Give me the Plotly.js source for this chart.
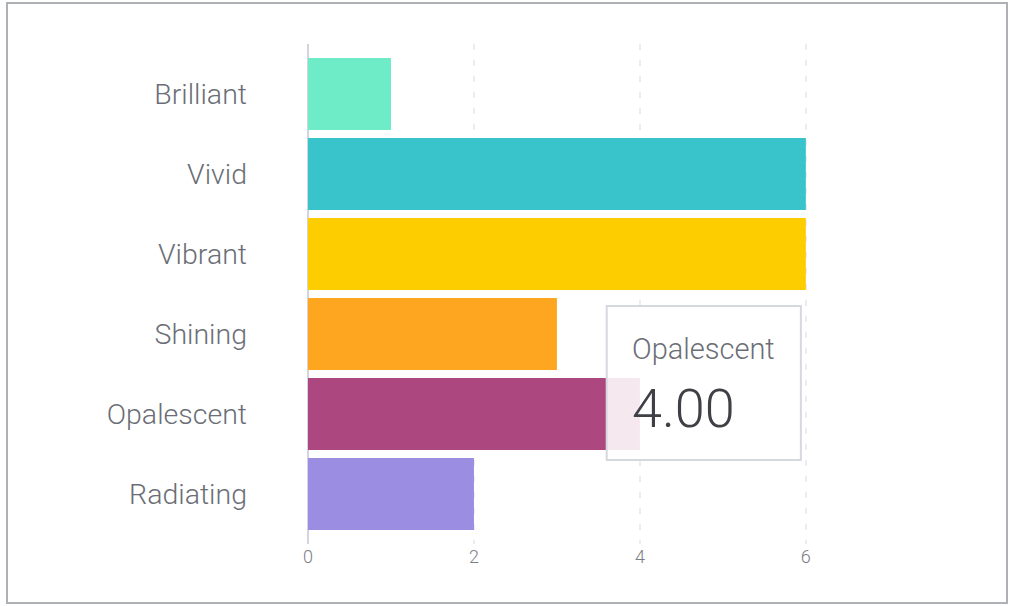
<!DOCTYPE html>
<html>
<head>
<meta charset="utf-8">
<script src="https://cdn.plot.ly/plotly-3.0.1.min.js"></script>
<style>
  html, body { margin: 0; padding: 0; background: #fff; }
  #wrap { position: relative; width: 1012px; height: 606px; }
  #chart { position: absolute; left: 0; top: 0; width: 1012px; height: 606px; }
  #frame { position: absolute; left: 6px; top: 2px; width: 998px; height: 598px;
           border: 2px solid #aeb1b5; pointer-events: none; }
</style>
</head>
<body>
<div id="wrap">
  <div id="chart"></div>
  <div id="frame"></div>
</div>
<script>
const categories = ["Brilliant", "Vivid", "Vibrant", "Shining", "Opalescent", "Radiating"];
const values = [1, 6, 6, 3, 4, 2];
const colors = ["#6decc7", "#39c3ca", "#fecd00", "#fea61f", "#ad477f", "#9a8de2"];
const xTicks = [0, 2, 4, 6];
const highlighted = "Opalescent";

const hIdx = categories.indexOf(highlighted);
const hVal = values[hIdx];

const trace = {
  type: "bar",
  orientation: "h",
  y: categories,
  x: values,
  marker: { color: colors, line: { width: 0 } },
  hoverinfo: "none"
};

const fontFam = "Roboto, 'Liberation Sans', sans-serif";

const layout = {
  width: 1012,
  height: 606,
  margin: { l: 308, r: 202, t: 44, b: 62 },
  paper_bgcolor: "rgba(0,0,0,0)",
  plot_bgcolor: "rgba(0,0,0,0)",
  showlegend: false,
  bargap: 0.1,
  font: { family: fontFam, weight: 300 },
  xaxis: {
    range: [0, 6.05],
    tickvals: xTicks,
    ticktext: xTicks.map(String),
    showgrid: true,
    gridcolor: "#ebebf2",
    gridwidth: 2,
    griddash: "6px,10px",
    zeroline: true,
    zerolinecolor: "#d4d4de",
    zerolinewidth: 2,
    showline: false,
    ticks: "",
    tickfont: { size: 18, color: "#7b7e85", family: fontFam, weight: 300 },
    fixedrange: true
  },
  yaxis: {
    type: "category",
    range: [categories.length - 1 + 0.625, -0.625],
    showgrid: false,
    zeroline: false,
    showline: false,
    ticks: "",
    ticklabelstandoff: 60,
    tickfont: { size: 28.5, color: "#6b6e76", family: fontFam, weight: 300 },
    fixedrange: true
  },
  shapes: [
    {
      type: "rect", xref: "x", yref: "y", layer: "above",
      x0: hVal - 0.4, x1: hVal + 1.94,
      y0: hIdx + 0.575, y1: hIdx - 1.35,
      fillcolor: "rgba(255,255,255,0.88)",
      line: { color: "#d6d8e0", width: 2 }
    }
  ],
  annotations: [
    {
      xref: "x", yref: "y", x: hVal - 0.12, y: hIdx - 0.81,
      xanchor: "left", yanchor: "middle", showarrow: false,
      text: highlighted,
      font: { size: 29, color: "#6b6e76", family: fontFam, weight: 300 }
    },
    {
      xref: "x", yref: "y", x: hVal - 0.115, y: hIdx - 0.075,
      xanchor: "left", yanchor: "middle", showarrow: false,
      text: hVal.toFixed(2),
      font: { size: 54, color: "#3f4045", family: fontFam, weight: 300 }
    }
  ]
};

Plotly.newPlot("chart", [trace], layout, { displayModeBar: false, staticPlot: true });
</script>
</body>
</html>
